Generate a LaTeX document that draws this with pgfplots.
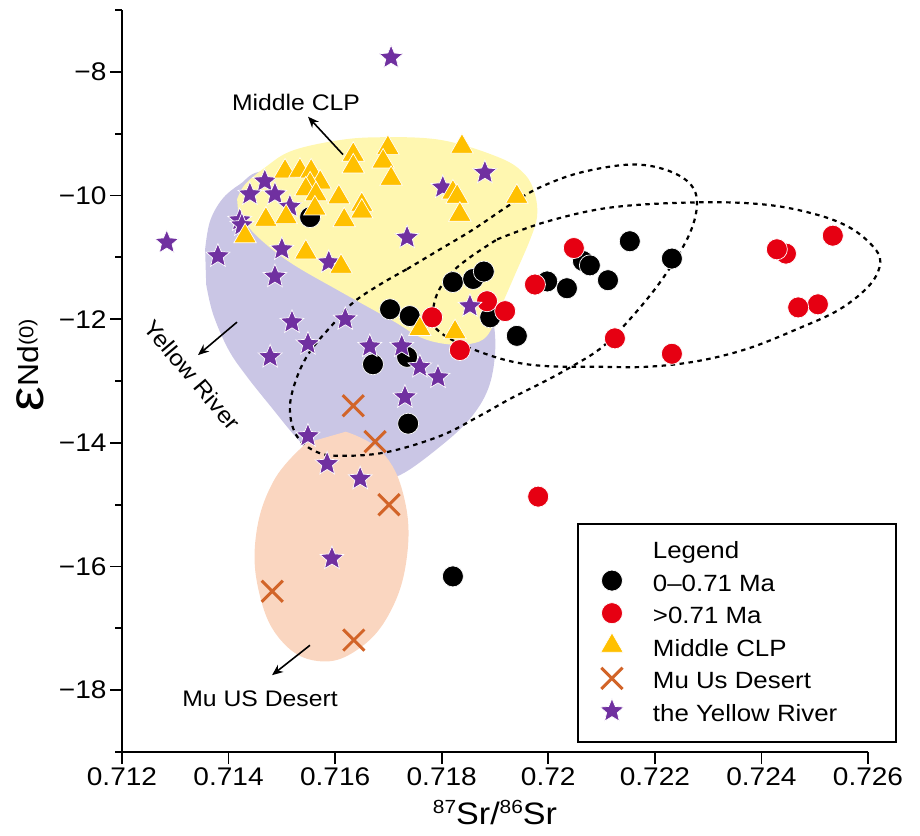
\documentclass[border=0pt]{standalone}
\usepackage{fontspec}
\setmainfont{Liberation Sans}[FakeStretch=1.1]
\usepackage{pgfplots}
\pgfplotsset{compat=1.18}
\usetikzlibrary{arrows.meta}

\definecolor{cyel}{RGB}{255,247,176}
\definecolor{cpurreg}{RGB}{202,198,229}
\definecolor{cpeach}{RGB}{250,214,192}
\definecolor{cred}{RGB}{230,0,18}
\definecolor{ctri}{RGB}{255,192,0}
\definecolor{ccross}{RGB}{210,100,40}
\definecolor{cstar}{RGB}{112,48,160}

\pgfdeclareplotmark{fstar}{%
  \pgfpathmoveto{\pgfqpointpolar{90}{\pgfplotmarksize}}%
  \pgfpathlineto{\pgfqpointpolar{126}{0.45\pgfplotmarksize}}%
  \pgfpathlineto{\pgfqpointpolar{162}{\pgfplotmarksize}}%
  \pgfpathlineto{\pgfqpointpolar{198}{0.45\pgfplotmarksize}}%
  \pgfpathlineto{\pgfqpointpolar{234}{\pgfplotmarksize}}%
  \pgfpathlineto{\pgfqpointpolar{270}{0.45\pgfplotmarksize}}%
  \pgfpathlineto{\pgfqpointpolar{306}{\pgfplotmarksize}}%
  \pgfpathlineto{\pgfqpointpolar{342}{0.45\pgfplotmarksize}}%
  \pgfpathlineto{\pgfqpointpolar{18}{\pgfplotmarksize}}%
  \pgfpathlineto{\pgfqpointpolar{54}{0.45\pgfplotmarksize}}%
  \pgfpathclose
  \pgfusepathqfillstroke
}

\pgfplotsset{
  blk/.style={only marks, mark=*, mark size=10.5pt, mark options={fill=black, draw=white, line width=0.7pt}},
  rd/.style={only marks, mark=*, mark size=10.5pt, mark options={fill=cred, draw=white, line width=0.7pt}},
  tri/.style={only marks, mark=triangle*, mark size=13pt, mark options={fill=ctri, draw=white, line width=0.7pt}},
  crs/.style={only marks, mark=x, mark size=15pt, mark options={draw=ccross, line width=3pt}},
  str/.style={only marks, mark=fstar, mark size=12.5pt, mark options={fill=cstar, draw=white, line width=0.7pt}},
  dashell/.style={draw=black, line width=2.2pt, dash pattern=on 4.5pt off 4.5pt, smooth, tension=0.6, forget plot},
}

\begin{document}
\begin{tikzpicture}
\begin{axis}[
  width=746pt, height=742pt, scale only axis,
  xmin=0.712, xmax=0.726, ymin=-19, ymax=-7,
  axis x line=bottom, axis y line=left,
  axis line style={-, line width=1.8pt},
  tick align=outside, major tick length=12pt, minor tick length=7pt,
  every tick/.style={black, line width=1.8pt},
  xtick={0.712,0.714,0.716,0.718,0.72,0.722,0.724,0.726},
  xticklabels={0.712,0.714,0.716,0.718,0.72,0.722,0.724,0.726},
  ytick={-18,-16,-14,-12,-10,-8},
  yticklabels={−18,−16,−14,−12,−10,−8},
  minor ytick={-19,-17,-15,-13,-11,-9,-7},
  scaled x ticks=false,
  tick label style={font=\fontsize{25.5}{28}\selectfont},
  xlabel={\fontsize{31}{31}\selectfont\raisebox{11pt}{\fontsize{19}{19}\selectfont 87}Sr/\raisebox{11pt}{\fontsize{19}{19}\selectfont 86}Sr},
  xlabel style={at={(axis description cs:0.5,-0.082)}, anchor=center},
  ylabel={{\fontsize{50}{50}\selectfont ε}\raisebox{5pt}{\fontsize{29}{29}\selectfont Nd}\raisebox{10pt}{\fontsize{20}{20}\selectfont (0)}},
  ylabel style={at={(axis description cs:-0.123,0.5216)}, anchor=center},
  clip=false,
  legend image code/.code={\begin{pgfinterruptboundingbox}\draw[#1, yshift=4.5pt] plot coordinates {(0pt,0pt)};\end{pgfinterruptboundingbox}},
  legend cell align=left,
  legend style={draw=none, fill=none, inner sep=0pt, outer sep=0pt,
    at={(axis description cs:0.6568,0.2837)}, anchor=north west,
    row sep=10.6pt, font=\fontsize{23.5}{26}\selectfont,
    nodes={inner sep=0pt, text height=17pt, text depth=5pt},
    /tikz/every odd column/.append style={column sep=41pt},
    /tikz/every even column/.append style={column sep=0pt}},
]
\addlegendimage{empty legend}\addlegendentry{Legend}
\addlegendimage{blk}\addlegendentry{0–0.71 Ma}
\addlegendimage{rd}\addlegendentry{>0.71 Ma}
\addlegendimage{tri}\addlegendentry{Middle CLP}
\addlegendimage{crs}\addlegendentry{Mu Us Desert}
\addlegendimage{str}\addlegendentry{the Yellow River}

% Yellow River field
\addplot[fill=cpurreg, draw=none, smooth, tension=0.6, forget plot] coordinates {
(0.71356,-10.87) (0.71365,-10.42) (0.71388,-10.06) (0.71421,-9.82) (0.71468,-9.61)
(0.71590,-9.82) (0.71759,-10.55) (0.71872,-11.35) (0.71896,-12.00) (0.71900,-12.56)
(0.71887,-13.13) (0.71853,-13.61) (0.71797,-14.06) (0.71722,-14.52) (0.71665,-14.61)
(0.71590,-14.42) (0.71534,-13.98) (0.71478,-13.40) (0.71431,-12.89) (0.71399,-12.48)
(0.71371,-11.92) (0.71358,-11.44)};
% Middle CLP field
\addplot[fill=cyel, draw=none, smooth, tension=0.6, forget plot] coordinates {
(0.71416,-10.06) (0.71431,-9.82) (0.71468,-9.55) (0.71515,-9.29) (0.71590,-9.13)
(0.71671,-9.06) (0.71797,-9.10) (0.71909,-9.39) (0.71956,-9.66) (0.71975,-9.98)
(0.71979,-10.34) (0.71966,-10.71) (0.71938,-11.27) (0.71909,-11.84) (0.71885,-12.27)
(0.71853,-12.40) (0.71806,-12.40) (0.71759,-12.29) (0.71709,-12.03) (0.71609,-11.55)
(0.71515,-11.08) (0.71450,-10.63) (0.71418,-10.26)};
% Mu Us Desert field
\addplot[fill=cpeach, draw=none, smooth, tension=0.7, forget plot] coordinates {
(0.71620,-13.82) (0.71688,-14.15) (0.71729,-14.87) (0.71735,-15.82) (0.71703,-16.74)
(0.71641,-17.35) (0.71568,-17.53) (0.71500,-17.21) (0.71459,-16.48) (0.71451,-15.53)
(0.71485,-14.61) (0.71547,-14.00)};
% dashed field A
\addplot[dashell] coordinates {
(0.71735,-11.19) (0.71797,-10.87) (0.71859,-10.55) (0.71928,-10.15) (0.71984,-9.87)
(0.72060,-9.63) (0.72153,-9.50) (0.72219,-9.58) (0.72266,-9.81) (0.72279,-10.15)
(0.72262,-10.68) (0.72210,-11.40) (0.72148,-12.05) (0.72097,-12.48) (0.72035,-12.81)
(0.71990,-13.02) (0.71928,-13.29) (0.71872,-13.56) (0.71797,-13.89) (0.71697,-14.15)
(0.71615,-14.21) (0.71566,-14.15) (0.71528,-13.89) (0.71515,-13.45) (0.71527,-12.97)
(0.71553,-12.52) (0.71596,-12.08) (0.71634,-11.73) (0.71684,-11.44) (0.71735,-11.19)};
% dashed field B
\addplot[dashell] coordinates {
(0.71904,-10.71) (0.71998,-10.42) (0.72121,-10.19) (0.72285,-10.11) (0.72410,-10.15)
(0.72504,-10.31) (0.72566,-10.52) (0.72609,-10.82) (0.72623,-11.08) (0.72604,-11.44)
(0.72547,-11.84) (0.72467,-12.16) (0.72373,-12.48) (0.72279,-12.68) (0.72185,-12.77)
(0.72091,-12.77) (0.71998,-12.76) (0.71934,-12.69) (0.71872,-12.53) (0.71816,-12.32)
(0.71787,-12.13) (0.71782,-11.97) (0.71791,-11.60) (0.71816,-11.27) (0.71853,-11.00)
(0.71904,-10.71)};

% 0-0.71 Ma
\addplot[blk, forget plot] coordinates {
(0.71553,-10.35) (0.71703,-11.84) (0.71740,-11.95) (0.71821,-11.40) (0.71859,-11.35)
(0.71879,-11.23) (0.71891,-11.97) (0.71941,-12.27) (0.71998,-11.39) (0.72035,-11.50)
(0.72065,-11.06) (0.72078,-11.13) (0.72112,-11.37) (0.72153,-10.74) (0.72232,-11.02)
(0.71671,-12.73) (0.71735,-12.61) (0.71737,-13.69) (0.71821,-16.16)};
% >0.71 Ma
\addplot[rd, forget plot] coordinates {
(0.71782,-11.97) (0.71834,-12.50) (0.71885,-11.71) (0.71919,-11.87) (0.71975,-11.44)
(0.72048,-10.85) (0.71981,-14.87) (0.72125,-12.31) (0.72232,-12.56) (0.72446,-10.94)
(0.72429,-10.87) (0.72534,-10.65) (0.72506,-11.76) (0.72469,-11.81)};
% the Yellow River
\addplot[str, forget plot] coordinates {
(0.71705,-7.77) (0.71284,-10.76) (0.71468,-9.77) (0.71440,-9.98) (0.71487,-9.98)
(0.71515,-10.18) (0.71421,-10.40) (0.71425,-10.48) (0.71380,-10.98) (0.71500,-10.87)
(0.71487,-11.31) (0.71588,-11.08) (0.71881,-9.63) (0.71802,-9.87) (0.71735,-10.68)
(0.71519,-12.05) (0.71549,-12.40) (0.71478,-12.61) (0.71619,-12.00) (0.71665,-12.44)
(0.71725,-12.44) (0.71759,-12.77) (0.71793,-12.94) (0.71731,-13.26) (0.71853,-11.79)
(0.71549,-13.89) (0.71585,-14.34) (0.71647,-14.58) (0.71594,-15.87)};
% Middle CLP
\addplot[tri, forget plot] coordinates {
(0.71506,-9.61) (0.71534,-9.60) (0.71555,-9.61) (0.71572,-9.79) (0.71553,-9.82)
(0.71545,-9.90) (0.71564,-9.98) (0.71607,-10.03) (0.71562,-10.21) (0.71470,-10.39)
(0.71508,-10.35) (0.71617,-10.40) (0.71431,-10.66) (0.71545,-10.92) (0.71611,-11.15)
(0.71634,-9.34) (0.71634,-9.53) (0.71699,-9.23) (0.71690,-9.45) (0.71705,-9.73)
(0.71838,-9.21) (0.71650,-10.15) (0.71650,-10.26) (0.71821,-9.95) (0.71829,-10.02)
(0.71834,-10.31) (0.71941,-10.02) (0.71759,-12.16) (0.71825,-12.21)};
% Mu Us Desert
\addplot[crs, forget plot] coordinates {
(0.71634,-13.40) (0.71675,-13.98) (0.71701,-15.00) (0.71482,-16.40) (0.71635,-17.19)};

% annotations
\node[font=\fontsize{22.5}{24}\selectfont] at (axis cs:0.715266,-8.50) {Middle CLP};
\draw[line width=1.6pt, -{Stealth[length=11pt,width=9pt]}] (axis cs:0.716148,-9.339) -- (axis cs:0.715491,-8.726);
\node[rotate=-50, font=\fontsize{22.5}{24}\selectfont] at (axis cs:0.713314,-12.903) {Yellow River};
\draw[line width=1.6pt, -{Stealth[length=11pt,width=9pt]}] (axis cs:0.714158,-12.048) -- (axis cs:0.713426,-12.581);
\node[font=\fontsize{22.5}{24}\selectfont] at (axis cs:0.71459,-18.145) {Mu US Desert};
\draw[line width=1.6pt, -{Stealth[length=11pt,width=9pt]}] (axis cs:0.715528,-17.274) -- (axis cs:0.714815,-17.758);

% legend frame
\draw[line width=1.8pt] (rel axis cs:0.6113,0.0135) rectangle (rel axis cs:1.0375,0.3073);

\coordinate (O) at (rel axis cs:0,0);
\coordinate (T) at (rel axis cs:1,1);
\end{axis}
\pgfresetboundingbox
\path ([xshift=-122pt,yshift=-83pt]O) rectangle ([xshift=52pt,yshift=10pt]T);
\end{tikzpicture}
\end{document}
